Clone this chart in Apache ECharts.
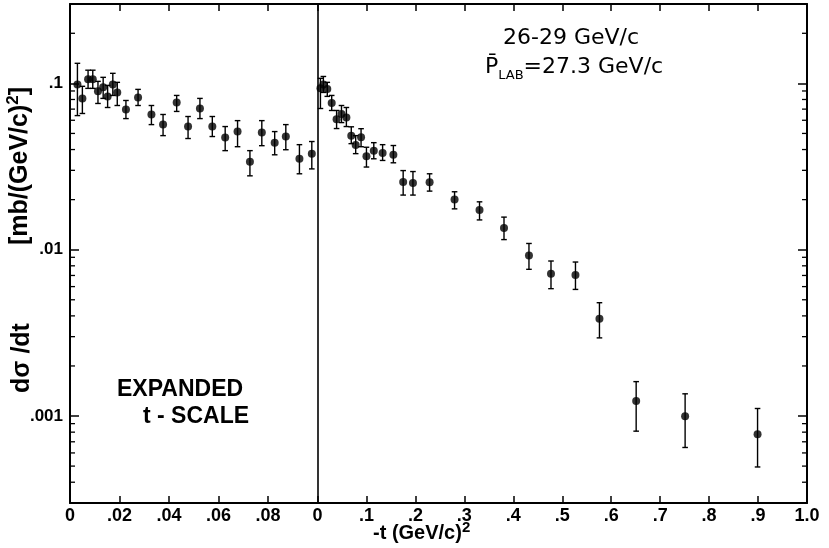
<!DOCTYPE html>
<html>
<head>
<meta charset="utf-8">
<script src="https://cdn.jsdelivr.net/npm/echarts@6/dist/echarts.min.js"></script>
<style>html,body{margin:0;padding:0;background:#fff;}#c{width:829px;height:548px;}</style>
</head>
<body>
<div id="c"></div>
<script>
// ---- data ----
const leftT  = [0.003,0.005,0.0073,0.0092,0.0113,0.0134,0.0152,0.0173,0.0191,0.0226,0.0275,0.0329,0.0376,0.0431,0.0477,0.0525,0.0575,0.0627,0.0677,0.0727,0.0775,0.0827,0.0872,0.0927,0.0977];
const leftV  = [0.0986,0.0812,0.1057,0.1057,0.0895,0.0946,0.0835,0.0986,0.0882,0.0697,0.0823,0.0650,0.0565,0.0767,0.0550,0.0706,0.0550,0.0472,0.0513,0.0338,0.0506,0.0440,0.0479,0.0352,0.0378];
const leftHi = [0.132,0.096,0.120,0.120,0.1028,0.1087,0.0972,0.1149,0.1014,0.0789,0.092,0.0736,0.0650,0.0846,0.0632,0.0812,0.0632,0.0550,0.0597,0.0394,0.0597,0.0513,0.0565,0.0428,0.0447];
const leftLo = [0.064,0.0659,0.0933,0.0933,0.0757,0.0812,0.0716,0.0846,0.0736,0.0614,0.0736,0.0565,0.0485,0.0678,0.0466,0.0614,0.0479,0.0394,0.0416,0.0278,0.0422,0.0372,0.0399,0.0286,0.0306];

const rightT  = [0.006,0.012,0.020,0.029,0.039,0.049,0.059,0.069,0.078,0.089,0.100,0.115,0.133,0.155,0.175,0.195,0.229,0.280,0.331,0.381,0.432,0.477,0.527,0.576,0.651,0.751,0.899];
const rightV  = [0.0933,0.0986,0.0925,0.0762,0.0608,0.0654,0.0623,0.0485,0.0426,0.0474,0.0365,0.0394,0.0381,0.0372,0.0255,0.0252,0.0254,0.0200,0.0173,0.0135,0.00923,0.00718,0.00704,0.00384,0.00123,0.000996,0.000778];
const rightHi = [0.1072,0.110,0.1014,0.0846,0.0687,0.0736,0.0716,0.0548,0.0485,0.0534,0.0413,0.0440,0.0428,0.0423,0.0299,0.0295,0.0286,0.0223,0.0194,0.0157,0.0109,0.00855,0.00843,0.00480,0.00161,0.00136,0.00111];
const rightLo = [0.0706,0.0882,0.0835,0.0687,0.0535,0.0581,0.0550,0.0434,0.0378,0.0416,0.0314,0.0352,0.0344,0.0333,0.0213,0.0213,0.0225,0.0176,0.0151,0.0115,0.00762,0.00583,0.00577,0.00295,0.000811,0.000647,0.000494];

const yMajorLabels = {'0.1': '.1', '0.01': '.01', '0.001': '.001'};
const yMinorTicks = [0.0004,0.0005,0.0006,0.0007,0.0008,0.0009,
  0.002,0.003,0.004,0.005,0.006,0.007,0.008,0.009,
  0.02,0.03,0.04,0.05,0.06,0.07,0.08,0.09,0.2];

const yMin = 0.0003, yMax = 0.3;
const FONT = 'Liberation Sans';

function xfmtLeft(v){ if (Math.abs(v) < 1e-9) return '0'; if (Math.abs(v-0.1) < 1e-9) return ''; return v.toFixed(2).replace(/^0/, ''); }
function xfmtRight(v){ if (Math.abs(v) < 1e-9) return '0'; if (Math.abs(v-1) < 1e-9) return '1.0'; return v.toFixed(1).replace(/^0/, ''); }
function yfmt(v){ for (const k in yMajorLabels) { if (Math.abs(v/parseFloat(k) - 1) < 1e-6) return yMajorLabels[k]; } return ''; }

const lineStyleFrame = {color: '#000', width: 2};
const tickStyle = {color: '#000', width: 1.5};
const labelStyle = {color: '#000', fontFamily: FONT, fontSize: 18, fontWeight: 'bold'};

function errSeries(t, lo, hi, xi, yi){
  return {
    type: 'custom', xAxisIndex: xi, yAxisIndex: yi, z: 5,
    data: t.map((x, i) => [x, lo[i], hi[i]]),
    encode: {x: 0, y: [1, 2]},
    renderItem: function(params, api){
      const p1 = api.coord([api.value(0), api.value(2)]);
      const p2 = api.coord([api.value(0), api.value(1)]);
      const hw = 2.8;
      const st = {stroke: '#000', lineWidth: 1.4};
      return {type: 'group', children: [
        {type: 'line', shape: {x1: p1[0], y1: p1[1], x2: p2[0], y2: p2[1]}, style: st},
        {type: 'line', shape: {x1: p1[0]-hw, y1: p1[1], x2: p1[0]+hw, y2: p1[1]}, style: st},
        {type: 'line', shape: {x1: p2[0]-hw, y1: p2[1], x2: p2[0]+hw, y2: p2[1]}, style: st}
      ]};
    }
  };
}
function minorTickSeries(xEdge, dir, xi, yi){
  return {
    type: 'custom', xAxisIndex: xi, yAxisIndex: yi, z: 6, silent: true,
    data: yMinorTicks.map(v => [xEdge, v]),
    renderItem: function(params, api){
      const p = api.coord([api.value(0), api.value(1)]);
      return {type: 'line', shape: {x1: p[0], y1: p[1], x2: p[0] + dir*5, y2: p[1]}, style: {stroke: '#000', lineWidth: 1.3}};
    }
  };
}

const chart = echarts.init(document.getElementById('c'), null, {renderer: 'canvas'});
const option = {
  backgroundColor: '#fff',
  animation: false,
  grid: [
    {left: 70, top: 4, width: 247.5, height: 499},
    {left: 317.5, top: 4, width: 489.5, height: 499}
  ],
  xAxis: [
    {gridIndex: 0, type: 'value', min: 0, max: 0.1, interval: 0.02, position: 'bottom',
      axisLine: {onZero: false, lineStyle: lineStyleFrame}, axisTick: {inside: true, length: 7, lineStyle: tickStyle},
      axisLabel: Object.assign({margin: 4, formatter: xfmtLeft, showMaxLabel: false}, labelStyle), splitLine: {show: false}},
    {gridIndex: 1, type: 'value', min: 0, max: 1, interval: 0.1, position: 'bottom',
      axisLine: {onZero: false, lineStyle: lineStyleFrame}, axisTick: {inside: true, length: 7, lineStyle: tickStyle},
      axisLabel: Object.assign({margin: 4, formatter: xfmtRight}, labelStyle), splitLine: {show: false}},
    {gridIndex: 0, type: 'value', min: 0, max: 0.1, interval: 0.02, position: 'top',
      axisLine: {onZero: false, lineStyle: lineStyleFrame}, axisTick: {inside: true, length: 7, lineStyle: tickStyle},
      axisLabel: {show: false}, splitLine: {show: false}},
    {gridIndex: 1, type: 'value', min: 0, max: 1, interval: 0.1, position: 'top',
      axisLine: {onZero: false, lineStyle: lineStyleFrame}, axisTick: {inside: true, length: 7, lineStyle: tickStyle},
      axisLabel: {show: false}, splitLine: {show: false}}
  ],
  yAxis: [
    {gridIndex: 0, type: 'log', min: yMin, max: yMax, logBase: 10, splitNumber: 3, position: 'left',
      axisLine: {onZero: false, lineStyle: lineStyleFrame}, axisTick: {inside: true, length: 9, lineStyle: tickStyle},
      axisLabel: {margin: 7, formatter: yfmt, fontSize: 17, color: '#000', fontFamily: FONT, fontWeight: 'bold'},
      splitLine: {show: false}},
    {gridIndex: 1, type: 'log', min: yMin, max: yMax, logBase: 10, splitNumber: 3, position: 'left',
      axisLine: {onZero: false, lineStyle: {color: '#000', width: 1.6}}, axisTick: {show: false},
      axisLabel: {show: false}, splitLine: {show: false}},
    {gridIndex: 1, type: 'log', min: yMin, max: yMax, logBase: 10, splitNumber: 3, position: 'right',
      axisLine: {onZero: false, lineStyle: lineStyleFrame}, axisTick: {inside: true, length: 9, lineStyle: tickStyle},
      axisLabel: {show: false}, splitLine: {show: false}}
  ],
  series: [
    errSeries(leftT, leftLo, leftHi, 0, 0),
    errSeries(rightT, rightLo, rightHi, 1, 1),
    {type: 'scatter', xAxisIndex: 0, yAxisIndex: 0, z: 10, symbol: 'circle', symbolSize: 8,
      itemStyle: {color: '#000'}, data: leftT.map((x, i) => [x, leftV[i]])},
    {type: 'scatter', xAxisIndex: 1, yAxisIndex: 1, z: 10, symbol: 'circle', symbolSize: 8,
      itemStyle: {color: '#000'}, data: rightT.map((x, i) => [x, rightV[i]])},
    minorTickSeries(0, 1, 0, 0),
    minorTickSeries(1, -1, 1, 2)
  ],
  graphic: [
    {type: 'text', left: 503, top: 27, style: {text: '26-29 GeV/c', fontFamily: 'DejaVu Sans', fontSize: 22, fill: '#000'}},
    {type: 'text', left: 485, top: 56, style: {
      text: '{a|P\u0304}{s|LAB}{a|=27.3 GeV/c}', fill: '#000',
      rich: {
        a: {fontFamily: 'DejaVu Sans', fontSize: 22, lineHeight: 30, fill: '#000'},
        s: {fontFamily: 'DejaVu Sans', fontSize: 13, lineHeight: 12, verticalAlign: 'bottom', fill: '#000'}
      }}},
    {type: 'text', left: 117, top: 378, style: {text: 'EXPANDED', fontFamily: FONT, fontSize: 23, fontWeight: 'bold', fill: '#000'}},
    {type: 'text', left: 143, top: 405, style: {text: 't - SCALE', fontFamily: FONT, fontSize: 23, fontWeight: 'bold', fill: '#000'}},
    {type: 'text', x: 20, y: 166, rotation: Math.PI/2, style: {
      text: '{a|[mb/(GeV/c)}{b|2}{a|]}', align: 'center', verticalAlign: 'middle', fill: '#000',
      rich: {
        a: {fontFamily: FONT, fontSize: 25, fontWeight: 'bold', lineHeight: 30, fill: '#000'},
        b: {fontFamily: FONT, fontSize: 17, fontWeight: 'bold', lineHeight: 17, verticalAlign: 'top', fill: '#000'}
      }}},
    {type: 'text', x: 22, y: 358, rotation: Math.PI/2, style: {
      text: 'd\u03c3 /dt', align: 'center', verticalAlign: 'middle', fontFamily: FONT, fontSize: 25, fontWeight: 'bold', fill: '#000'}},
    {type: 'text', x: 373, y: 520, style: {
      text: '{a|-t (GeV/c)}{b|2}', fill: '#000',
      rich: {
        a: {fontFamily: FONT, fontSize: 20, fontWeight: 'bold', lineHeight: 26, fill: '#000'},
        b: {fontFamily: FONT, fontSize: 15, fontWeight: 'bold', lineHeight: 15, verticalAlign: 'top', fill: '#000'}
      }}}
  ]
};
chart.setOption(option);
</script>
</body>
</html>
